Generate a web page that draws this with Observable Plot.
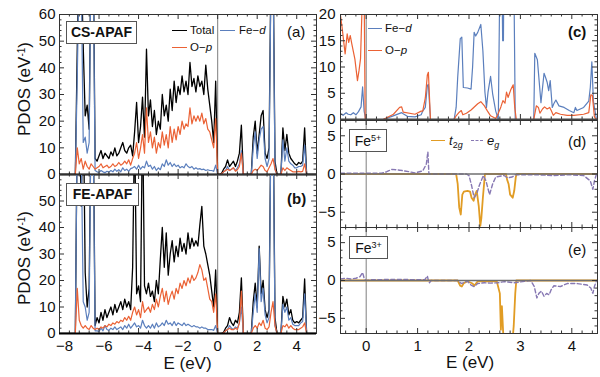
<!DOCTYPE html>
<html>
<head>
<meta charset="utf-8">
<script src="https://cdn.jsdelivr.net/npm/d3@7"></script>
<script src="https://cdn.jsdelivr.net/npm/@observablehq/plot@0.6"></script>
<style>
  body { margin: 0; background: #fff; }
  #chart { position: relative; width: 600px; height: 377px; overflow: hidden; background: #fff;
           font-family: "Liberation Sans", Arial, sans-serif; color: #111; }
  #chart svg { position: absolute; left: 0; top: 0; }
  .t { position: absolute; white-space: nowrap; }
  .box { position: absolute; box-sizing: border-box; border: 1px solid #555; background: #fff; text-align: center; white-space: nowrap; }
  .sw { position: absolute; height: 0; }
  .sup { font-size: 9px; position: relative; top: -5px; line-height: 0; }
  .sub { font-size: 9px; position: relative; top: 3px; line-height: 0; }
</style>
</head>
<body>
<div id="chart"></div>
<script>
// ---------- DATA ----------
// Left panels (a),(b): energy grid -7.2 ... 4.6 eV, step 0.1 eV (119 samples)
const eGrid = d3.range(-72, 47).map(i => i / 10);

// (a) CS-APAF
const aTotal = [0,48,85,80,48,22,26,17,90,92, 6,5,7,9,6,8,7,6,8.5,7, 10,7,8,10,12,9,8,10,11,7,
  16,27,12,18,29,14,47,22,28,18, 24,15,20,17,30,22,26,20,32,24, 35,27,33,30,37,31,35,30,42,33,
  36,31,37,33,35,30,41,32,26,20, 12,35,0,
  0,0.5,2,3,5.5,3,4,5,3,5, 8,18.5,0,0,0,0,0,14,20,8, 15,22,24,8,6,10,80,85,5,0,
  0,0,17.5,9,15,8,6,5,4,3.5, 4.5,4,5,17.5,0,0];
const aFeD = [0,37,80,75,12,14,8,12,88,85, 1.5,1,0.8,1.5,1,0.7,1.2,0.9,1.5,1, 2,1.2,1.8,1,2.5,1.5,2,1.2,2.2,2.5,
  3,2,3.5,2,3,2.5,5,3,3.5,2, 3,1.5,2.5,1.8,4,3,5.5,3.5,4.5,3, 4,3,3.5,2.5,3,2.5,4,3,2.5,3,
  2,2.5,2,2.2,1.8,2,1.5,1.8,1.5,1.5, 1.2,3.5,0,
  0,0.2,1,1.5,3,1.5,2,2.5,1.5,2.5, 4,9,0,0,0,0,0,10,16,6, 13,17,18,6,3,6,75,80,2,0,
  0,0,13,5,10,5,4,3.5,2.5,2.5, 3,3,3.5,11,0,0];
const aOp = [0,10,4,6,2,5,3,2,4,3, 2,2.5,3,4,2.5,3,3.5,2.5,3,4, 3,3.5,4.5,3.5,4,5,4,5.5,3.5,6,
  8,12,6,10,15,8,25,12,16,10, 14,8,12,10,16,11,15,10,18,12, 17,13,18,15,20,17,19,18,25,19,
  22,20,22,20,23,19,21,17,16,13, 10,21,0,
  0,0.3,1,1.5,2,1.5,2,2.5,1.2,1.8, 3,8,0,0,0,0,0,1.5,2,1.5, 2.5,3.5,3,1.5,1,2.5,4,6,2,0,
  0,0,2.5,1.5,2.5,2,1.5,1,1,1, 1.2,1,1.2,4,0,0];

// (b) FE-APAF
const bTotal = [0,82,85,48,90,23,10,17,85,88, 3,6,4,8,5,9,6,8,10,7, 11,8,10,12,9,13,10,12,9,25,
  80,15,18,12,85,18,15,19,14,16, 12,20,15,28,40,25,38,22,30,35, 27,33,29,36,31,34,30,38,32,36,
  33,35,33,41,48,33,30,26,22,16, 10,24,0,
  0,0,0.5,2,3,6,4,3,5,4, 8,21,0,0,0,0,0,12,19,10, 33,15,20,9,6,9,85,90,6,0,
  0,0,14,10,13,7,9,5,4,4.5, 4,5,6,20.6,0,0];
const bFeD = [0,80,80,70,12,10,5,8,85,80, 1,1,0.8,2,1,3,1.5,1.2,2,1.5, 2.5,1.5,2,2.5,1.5,3,2,3.5,2,3,
  4,2.5,3,2,5,3,2,3,2,3.5, 2,4,2.5,3,4,3,5,3.5,4,3, 4.5,3,4,3.5,3,4,3,3.5,3,2.5,
  3,2.5,2.5,2,2.5,2,2,1.5,1.5,1.5, 1.2,3,0,
  0,0,0.2,1,1.5,3,2,1.5,2.5,2, 4,10,0,0,0,0,0,8,15,8, 32,12,17,7,4,6,80,85,3,0,
  0,0,11,8,10,5,6,3.5,3,3, 3,4,4.5,15,0,0];
const bOp = [0,17,5,3,2,3,2,1.5,3,2, 1.5,2,1.5,2.5,2,3,2.5,3.5,3,4, 3.5,4.5,4,5,4.5,6,5,6.5,5,8,
  10,7,9,6,12,8,9,10,8,11, 9,13,10,14,17,12,16,11,14,16, 13,17,15,19,17,20,18,21,19,22,
  20,21,23,26,24,20,21,17,13,12, 8,15,0,
  0,0,0.3,1,1.5,2,1.5,1.5,2,1.5, 4,16,0,0,0,0,0,2,3,2, 4,3,5,2,1.5,2.5,8,12,3,0,
  0,0,3,2.5,3.5,2,3,2,1.5,1.5, 1.5,2,2.5,4,0,0];

// (c) Fe-d and O-p near the gap
const cFeE = [-0.5,-0.45,-0.39,-0.35,-0.3,-0.25,-0.2,-0.15,-0.1,-0.07,-0.04,-0.01,0.33,0.5,0.69,0.72,0.8,0.95,1.07,1.1,
  1.15,1.19,1.21,1.25,1.71,1.75,1.78,1.83,1.86,1.89,1.97,2.04,2.07,2.1,2.13,2.17,2.23,2.27,2.31,2.34,
  2.37,2.42,2.46,2.52,2.57,2.62,2.655,2.67,2.69,2.8,2.86,2.9,3.26,3.28,3.33,3.4,3.46,3.49,3.52,3.55,
  3.58,3.62,3.65,3.69,3.75,3.85,3.95,4.04,4.07,4.1,4.23,4.33,4.36,4.39,4.42,4.48,4.5];
const cFeV = [1.1,0.8,1.3,1.0,0.9,1.3,0.9,1.5,2.4,6.2,1.6,0,0,0.6,1.3,1.1,0.6,0.5,0.9,1.6,
  2.3,6.5,6.7,0,0,2.3,8,15.4,15.7,6.1,6.0,5.8,10,16.6,15.9,16.6,18.1,13.1,5.2,2.3,
  5.2,8.2,4.9,1.6,0,45,15,15,50,80,40,0,0,12.6,11.4,3.2,8.8,8,7.1,5.5,
  7.4,2.3,3,3.7,2.6,2.3,1.7,1.3,2.3,1.7,2.3,3.5,6.1,11,3.5,0,0];
const cOpE = [-0.5,-0.47,-0.41,-0.37,-0.34,-0.31,-0.28,-0.22,-0.17,-0.14,-0.11,-0.07,-0.04,-0.02,0.33,0.53,0.65,0.69,0.72,0.95,
  1.07,1.1,1.15,1.19,1.21,1.25,1.71,1.75,1.81,1.85,1.88,1.95,2.04,2.17,2.23,2.3,2.36,2.42,2.52,2.57,
  2.62,2.66,2.7,2.73,2.76,2.81,2.86,2.89,2.92,3.26,3.31,3.35,3.38,3.43,3.47,3.52,3.57,3.6,3.64,3.69,
  3.78,3.91,4.04,4.23,4.33,4.37,4.4,4.44,4.48,4.5];
const cOpV = [19.8,17.6,12.5,16.3,14.7,16,14.4,11.5,7.4,9.3,11.6,25,25,0,0,1.0,2.3,2.4,1.4,1.0,
  1.6,1.6,4.1,8.5,9,0,0,0.7,1.4,1.7,0.9,1.2,1.8,3.0,3.4,2.6,1.6,0.7,0.2,1.2,
  2.4,3.6,3.1,5.2,4.2,5.6,6.6,2.3,0,0,2.6,2.3,1.2,2.0,2.4,2.0,2.3,1.7,0.8,1.3,
  1.0,0.8,0.8,1.0,1.3,4.7,4.6,0.5,0,0];

// (d) Fe5+ t2g / eg
const dT2E = [-0.5,1.75,1.78,1.81,1.84,1.87,1.9,1.97,2.02,2.05,2.09,2.12,2.15,2.19,2.22,2.24,2.27,2.31,2.72,2.74,2.77,2.8,2.85,2.88,2.91,2.93,4.5];
const dT2V = [0,0,-1.3,-4.4,-5.3,-2.7,-2.3,-2.2,-2.3,-3.1,-3.5,-2.7,-2.2,-4.2,-6.8,-5.8,-3.1,0,0,-0.7,-1.3,-2.7,-3.1,-2.2,-0.4,0,0];
const dEgE = [-0.5,0.3,0.4,0.5,0.65,0.75,0.95,1.1,1.17,1.2,1.22,1.95,2.0,2.05,2.1,2.15,2.2,2.28,2.33,2.4,2.46,2.52,2.68,2.75,2.84,2.9,3.33,3.65,3.97,4.23,4.36,4.41,4.44,4.48,4.5];
const dEgV = [0.1,0.1,0.3,0.6,0.5,0.4,0.15,0.4,1.3,2.9,0,0,-0.2,-1.5,-3.1,-2.6,-1.5,-0.2,-0.9,-2.7,-1.3,-0.4,-0.2,-0.5,-0.4,-0.1,-0.1,-0.2,-0.1,-0.2,-0.9,-2.0,-0.9,0,0];

// (e) Fe3+ t2g / eg
const eT2E = [-0.5,1.78,1.83,1.86,1.9,1.97,2.07,2.1,2.17,2.3,2.54,2.6,2.62,2.64,2.68,2.75,2.82,2.87,2.9,2.92,4.5];
const eT2V = [0,0,-0.7,-0.8,-0.35,-0.1,-0.4,-0.7,-0.1,-0.1,-0.1,-1.7,-6.5,-3.4,-9,-12,-10,-6.0,-1.7,0,0];
const eEgE = [-0.5,-0.4,-0.3,-0.2,-0.12,-0.07,-0.04,0,0.1,0.6,1.0,1.14,1.19,1.21,1.23,1.26,1.78,1.85,1.97,2.04,
  2.1,2.17,2.3,2.42,2.56,2.69,2.88,3.2,3.27,3.32,3.36,3.41,3.46,3.51,3.56,3.6,3.65,3.78,3.91,4.1,
  4.3,4.37,4.41,4.44,4.48,4.5];
const eEgV = [0.2,0.3,0.2,0.3,0.5,1.05,0.3,0,0.1,0.15,0.1,0.1,0.6,0,-0.3,0,0,-0.4,-0.1,-0.6,
  -0.8,-0.4,-0.3,-0.35,-0.3,-0.15,-0.3,0,-0.8,-2.3,-1.7,-1.4,-2.1,-1.7,-1.9,-1.2,-0.7,-0.8,-0.4,-0.4,
  -0.6,-1.0,-1.7,-0.8,0,0];

// Tick labels
const leftXLabels = [-8,-6,-4,-2,0,2,4];
const leftYLabelsA = [0,10,20,30,40,50,60];
const leftYLabelsB = [0,10,20,30,40,50];
const rightXLabels = [0,1,2,3,4];
const cYLabels = [0,5,10,15,20];
const deYLabels = [-5,0,5];

// ---------- DRAWING ----------
const W = 600, H = 377;
const BLUE = "#5b7fbd", RED = "#eb6235", GOLD = "#e19c24", PURPLE = "#8778b3";
const chart = document.getElementById("chart");

const gridRows = vals => [{E: -8, v: 0}, ...eGrid.map((e, i) => ({E: e, v: vals[i]})), {E: 5, v: 0}];
const zip = (E, V) => E.map((e, i) => ({E: e, v: V[i]}));
const fmt = d => (d < 0 ? "\u2212" + Math.abs(d) : String(d));
const steps = (a, b, s, skip) => d3.range(Math.round(a / s), Math.round(b / s) + 1).map(i => +(i * s).toFixed(3)).filter(v => !skip.includes(v));

function panel(o) {
  const pw = W - o.ml - o.mr, ph = H - o.mt - o.mb;
  const ux = (o.xd[1] - o.xd[0]) / pw, uy = (o.yd[1] - o.yd[0]) / ph;
  const ts = {stroke: "#333", strokeWidth: 1};
  const marks = [Plot.ruleX([0], {stroke: "#8a8a8a", strokeWidth: 1.1})];
  for (const l of o.lines) {
    marks.push(Plot.line(l.data, {x: "E", y: "v", stroke: l.color, strokeWidth: l.w,
      strokeDasharray: l.dash, clip: true}));
  }
  if (o.hzero) marks.push(Plot.ruleY([0], {stroke: "#6f6f6f", strokeWidth: 1.5}));
  for (const [t, len] of [[o.yMaj, 5], [o.yMin, 2.5]]) {
    marks.push(Plot.ruleY(t, {y: d => d, x1: o.xd[0], x2: o.xd[0] + len * ux, ...ts}));
    marks.push(Plot.ruleY(t, {y: d => d, x1: o.xd[1] - len * ux, x2: o.xd[1], ...ts}));
  }
  for (const [t, len] of [[o.xMaj, 5], [o.xMin, 2.5]]) {
    marks.push(Plot.ruleX(t, {x: d => d, y1: o.yd[0], y2: o.yd[0] + len * uy, ...ts}));
    marks.push(Plot.ruleX(t, {x: d => d, y1: o.yd[1] - len * uy, y2: o.yd[1], ...ts}));
  }
  marks.push(Plot.frame({stroke: "#333", strokeWidth: 1}));
  // zero baseline of the curves, drawn unclipped like the reference
  if (o.base) marks.push(Plot.ruleY([o.yd[0]], {stroke: o.base, strokeWidth: 2}));
  if (o.yLab) marks.push(Plot.axisY(o.yLab, {anchor: "left", tickSize: 0, tickPadding: o.yPad, tickFormat: fmt, label: null}));
  if (o.xLab) {
    const neg = o.xLab.filter(d => d < 0), pos = o.xLab.filter(d => d >= 0);
    if (neg.length) marks.push(Plot.axisX(neg, {anchor: "bottom", tickSize: 0, tickPadding: 7, dx: 5, tickFormat: fmt, label: null}));
    marks.push(Plot.axisX(pos, {anchor: "bottom", tickSize: 0, tickPadding: 7, tickFormat: fmt, label: null}));
  }
  const svg = Plot.plot({
    width: W, height: H,
    marginLeft: o.ml, marginRight: o.mr, marginTop: o.mt, marginBottom: o.mb,
    x: o.xLab ? {domain: o.xd} : {domain: o.xd, axis: null},
    y: o.yLab ? {domain: o.yd} : {domain: o.yd, axis: null},
    style: {fontFamily: '"Liberation Sans", Arial, sans-serif', fontSize: "15px",
            background: "transparent", color: "#111", overflow: "visible"},
    marks
  });
  chart.appendChild(svg);
}

const LX = [-8, 5];
const lxMaj = leftXLabels, lxMin = steps(-8, 5, 0.5, leftXLabels);
const lyMaj = leftYLabelsA, lyMin = steps(0, 60, 2, leftYLabelsA);
const RX = [-0.5, 4.5];
const rxMaj = rightXLabels, rxMin = steps(-0.4, 4.4, 0.2, rightXLabels);

const leftLines = (tot, fe, op) => [
  {data: gridRows(tot), color: "#000", w: 1.3},
  {data: gridRows(fe), color: BLUE, w: 1.2},
  {data: gridRows(op), color: RED, w: 1.2}
];

// (a)
panel({xd: LX, yd: [0, 60], ml: 59, mr: 284, mt: 14, mb: 203, base: "#000",
  lines: leftLines(aTotal, aFeD, aOp),
  xMaj: lxMaj, xMin: lxMin, yMaj: lyMaj, yMin: lyMin, yLab: leftYLabelsA, yPad: 4});
// (b)
panel({xd: LX, yd: [0, 60], ml: 59, mr: 284, mt: 174, mb: 44, base: "#000",
  lines: leftLines(bTotal, bFeD, bOp),
  xMaj: lxMaj, xMin: lxMin, yMaj: lyMaj, yMin: lyMin, yLab: leftYLabelsB, yPad: 4, xLab: leftXLabels});
// (c)
panel({xd: RX, yd: [0, 20], ml: 340, mr: 3, mt: 14, mb: 258, base: "#444",
  lines: [{data: zip(cFeE, cFeV), color: BLUE, w: 1.2}, {data: zip(cOpE, cOpV), color: RED, w: 1.2}],
  xMaj: rxMaj, xMin: rxMin, yMaj: cYLabels, yMin: steps(0, 20, 1, cYLabels), yLab: cYLabels, yPad: 5});
// (d)
panel({xd: RX, yd: [-7, 7], ml: 340, mr: 3, mt: 120, mb: 150, hzero: true,
  lines: [{data: zip(dT2E, dT2V), color: GOLD, w: 1.8}, {data: zip(dEgE, dEgV), color: PURPLE, w: 1.4, dash: "4,2.5"}],
  xMaj: rxMaj, xMin: rxMin, yMaj: deYLabels, yMin: steps(-7, 7, 1, deYLabels), yLab: deYLabels, yPad: 5});
// (e)
panel({xd: RX, yd: [-7, 7], ml: 340, mr: 3, mt: 227, mb: 44, hzero: true,
  lines: [{data: zip(eT2E, eT2V), color: GOLD, w: 1.8}, {data: zip(eEgE, eEgV), color: PURPLE, w: 1.4, dash: "4,2.5"}],
  xMaj: rxMaj, xMin: rxMin, yMaj: deYLabels, yMin: steps(-7, 7, 1, deYLabels), yLab: deYLabels, yPad: 5, xLab: rightXLabels});

// ---------- ANNOTATIONS ----------
function add(cls, html, css) {
  const d = document.createElement("div");
  d.className = cls; d.innerHTML = html; d.style.cssText = css;
  chart.appendChild(d);
  return d;
}
// Axis titles
add("t", "PDOS (eV<span class='sup' style='font-size:10px'>-1</span>)", "left:25px;top:89px;font-size:17px;transform:translate(-50%,-50%) rotate(-90deg);");
add("t", "PDOS (eV<span class='sup' style='font-size:10px'>-1</span>)", "left:25px;top:258px;font-size:17px;transform:translate(-50%,-50%) rotate(-90deg);");
add("t", "E (eV)", "left:187.5px;top:364px;font-size:17px;transform:translate(-50%,-50%);");
add("t", "E (eV)", "left:470px;top:363px;font-size:17px;transform:translate(-50%,-50%);");

// Label boxes
add("box", "CS-APAF", "left:66px;top:21px;width:71px;height:23px;font:bold 14px/21px 'Liberation Sans',Arial,sans-serif;");
add("box", "FE-APAF", "left:66px;top:183px;width:73px;height:23px;font:bold 14px/21px 'Liberation Sans',Arial,sans-serif;");
add("box", "Fe<span class='sup'>5+</span>", "left:349px;top:129px;width:38px;height:23px;font:14px/22px 'Liberation Sans',Arial,sans-serif;");
add("box", "Fe<span class='sup'>3+</span>", "left:349px;top:236px;width:39px;height:23px;font:14px/22px 'Liberation Sans',Arial,sans-serif;");

// Panel letters
add("t", "(a)", "left:287px;top:23px;font:15px/18px 'Liberation Sans',Arial,sans-serif;");
add("t", "(b)", "left:287px;top:190px;font:bold 15px/18px 'Liberation Sans',Arial,sans-serif;");
add("t", "(c)", "left:568px;top:23px;font:bold 15px/18px 'Liberation Sans',Arial,sans-serif;");
add("t", "(d)", "left:568px;top:133px;font:15px/18px 'Liberation Sans',Arial,sans-serif;");
add("t", "(e)", "left:568px;top:241px;font:15px/18px 'Liberation Sans',Arial,sans-serif;");

// Legends
const lf = "font:11.5px/14px 'Liberation Sans',Arial,sans-serif;";
add("sw", "", "left:172px;top:29.5px;width:15px;border-top:1.3px solid #000;");
add("t", "Total", "left:190px;top:23px;" + lf);
add("sw", "", "left:220px;top:29.5px;width:15px;border-top:1.3px solid " + BLUE + ";");
add("t", "Fe\u2212<i>d</i>", "left:239px;top:23px;" + lf);
add("sw", "", "left:172px;top:46.5px;width:15px;border-top:1.3px solid " + RED + ";");
add("t", "O\u2212<i>p</i>", "left:190px;top:40px;" + lf);

add("sw", "", "left:368px;top:27.5px;width:14px;border-top:1.3px solid " + BLUE + ";");
add("t", "Fe\u2212<i>d</i>", "left:385px;top:21px;" + lf);
add("sw", "", "left:368px;top:49.5px;width:14px;border-top:1.3px solid " + RED + ";");
add("t", "O\u2212<i>p</i>", "left:385px;top:43px;" + lf);

add("sw", "", "left:431px;top:140px;width:14px;border-top:1.8px solid " + GOLD + ";");
add("t", "<i>t</i><span class='sub'>2<i>g</i></span>", "left:449px;top:133px;font:13px/16px 'Liberation Sans',Arial,sans-serif;");
add("sw", "", "left:471px;top:140px;width:12px;border-top:1.4px dashed " + PURPLE + ";");
add("t", "<i>e</i><span class='sub'><i>g</i></span>", "left:487px;top:133px;font:13px/16px 'Liberation Sans',Arial,sans-serif;");
</script>
</body>
</html>
